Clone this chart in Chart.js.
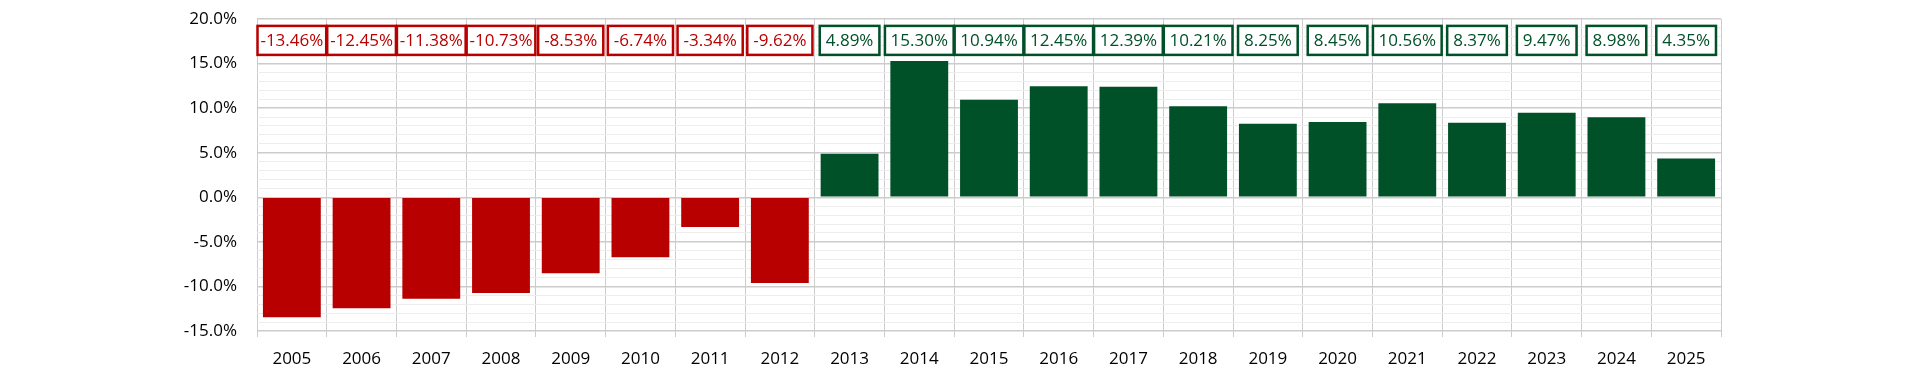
<!DOCTYPE html>
<html lang="en">
<head>
    <meta charset="UTF-8">
    <title>Annual Returns</title>
    <style>
        html, body {
            margin: 0;
            padding: 0;
            background: #ffffff;
        }
        #wrap {
            width: 1920px;
            height: 377px;
        }
    </style>
    <script src="https://cdn.jsdelivr.net/npm/chart.js@4"></script>
</head>
<body>
    <div id="wrap"><canvas id="returnsChart"></canvas></div>
    <script>
        const years = ['2005', '2006', '2007', '2008', '2009', '2010', '2011', '2012', '2013', '2014',
            '2015', '2016', '2017', '2018', '2019', '2020', '2021', '2022', '2023', '2024', '2025'];
        const returns = [-13.46, -12.45, -11.38, -10.73, -8.53, -6.74, -3.34, -9.62, 4.89, 15.30,
            10.94, 12.45, 12.39, 10.21, 8.25, 8.45, 10.56, 8.37, 9.47, 8.98, 4.35];
        const yTicks = [-15, -10, -5, 0, 5, 10, 15, 20];

        const RED = '#b80000';
        const GREEN = '#005028';
        const FONT = "'Open Sans', 'Noto Sans', sans-serif";

        // boxed value labels sitting in a row near the top of the plot
        const boxLabels = {
            id: 'boxLabels',
            afterDatasetsDraw(chart) {
                const ctx = chart.ctx;
                const x = chart.scales.x;
                const y = chart.scales.y;
                const rowY = y.getPixelForValue(17.6);
                const catW = x.getPixelForValue(1) - x.getPixelForValue(0);
                ctx.save();
                ctx.font = '17px ' + FONT;
                ctx.textAlign = 'center';
                ctx.textBaseline = 'middle';
                returns.forEach((v, i) => {
                    const cx = x.getPixelForValue(i);
                    const text = v.toFixed(2) + '%';
                    const w = Math.min(ctx.measureText(text).width + 12, catW - 1);
                    const h = 29;
                    const col = v < 0 ? RED : GREEN;
                    ctx.fillStyle = '#ffffff';
                    ctx.fillRect(cx - w / 2, rowY - h / 2, w, h);
                    ctx.lineWidth = 2.5;
                    ctx.strokeStyle = col;
                    ctx.strokeRect(cx - w / 2, rowY - h / 2, w, h);
                    ctx.fillStyle = col;
                    ctx.fillText(text, cx, rowY + 1);
                });
                ctx.restore();
            }
        };

        new Chart(document.getElementById('returnsChart'), {
            type: 'bar',
            data: {
                labels: years,
                datasets: [{
                    data: returns,
                    backgroundColor: returns.map(v => v < 0 ? RED : GREEN),
                    barPercentage: 0.83,
                    categoryPercentage: 1.0
                }]
            },
            options: {
                responsive: true,
                maintainAspectRatio: false,
                animation: false,
                layout: { padding: { top: 19, right: 199, left: 0, bottom: 0 } },
                plugins: {
                    legend: { display: false },
                    tooltip: { enabled: false }
                },
                scales: {
                    x: {
                        grid: {
                            offset: true,
                            color: '#cccccc',
                            lineWidth: 1,
                            drawTicks: true,
                            tickLength: 6
                        },
                        border: { display: false },
                        ticks: {
                            color: '#000000',
                            font: { size: 17, family: FONT },
                            padding: 12,
                            maxRotation: 0
                        },
                        afterFit(scale) {
                            scale.height = 46;
                            scale.paddingLeft = 0;
                            scale.paddingRight = 0;
                        }
                    },
                    y: {
                        min: yTicks[0],
                        max: yTicks[yTicks.length - 1],
                        grid: {
                            drawTicks: false,
                            color: ctx => (ctx.tick && ctx.tick.value % 5 === 0) ? '#cccccc' : '#ededed',
                            lineWidth: ctx => (ctx.tick && ctx.tick.value % 5 === 0) ? 1.5 : 1
                        },
                        border: { display: false },
                        ticks: {
                            stepSize: 1,
                            autoSkip: false,
                            color: '#000000',
                            font: { size: 17, family: FONT },
                            padding: 20,
                            callback: v => yTicks.includes(v) ? v.toFixed(1) + '%' : ''
                        },
                        afterFit(scale) {
                            scale.width = 257;
                            scale.paddingTop = 0;
                            scale.paddingBottom = 0;
                        }
                    }
                }
            },
            plugins: [boxLabels]
        });
    </script>
</body>
</html>
